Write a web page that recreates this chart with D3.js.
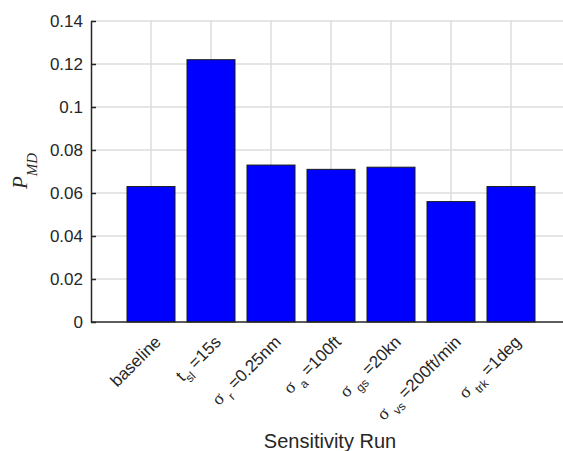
<!DOCTYPE html>
<meta charset="utf-8">
<style>
body { margin: 0; background: #fff; }
svg { display: block; font-family: "Liberation Sans", Arial, sans-serif; }
.grid line { stroke: #dcdcdc; stroke-width: 1.5px; }
.bar { fill: #0000ff; stroke: #1a1a1a; stroke-width: 1px; }
.axis path, .axis line { stroke: #262626; stroke-width: 1.5px; }
.axis text { fill: #262626; font-size: 17px; }
</style>
<svg width="563" height="451"></svg>
<script src="https://d3js.org/d3.v7.min.js"></script>
<script>

// categories: [main text, subscript, rest]
var runs = ["baseline", "t_sl", "sigma_r", "sigma_a", "sigma_gs", "sigma_vs", "sigma_trk"];
var labelMain = ["baseline", "t", "σ", "σ", "σ", "σ", "σ"];
var labelSub  = ["", "sl", "r", "a", "gs", "vs", "trk"];
var labelRest = ["", " =15s", " =0.25nm", " =100ft", " =20kn", " =200ft/min", " =1deg"];
var pmd = [0.063, 0.122, 0.073, 0.071, 0.072, 0.056, 0.063];
var yTicks = [0, 0.02, 0.04, 0.06, 0.08, 0.1, 0.12, 0.14];

var svg = d3.select("svg"),
    margin = {top: 21, left: 91},
    width = 480,
    height = 301;

// bar positions 1..7 on a 0..8 axis (right part runs off the page)
var x = d3.scaleLinear().domain([0, 8]).range([0, width]);
var y = d3.scaleLinear().domain([0, 0.14]).range([height, 0]);
var barW = x(0.8) - x(0);
function cx(i) { return x(i + 1); }

var g = svg.append("g")
    .attr("transform", "translate(" + margin.left + "," + margin.top + ")");

// grid
var grid = g.append("g").attr("class", "grid");
grid.selectAll(".hg").data(yTicks.slice(1)).enter().append("line")
    .attr("x1", 0).attr("x2", width)
    .attr("y1", function(d) { return y(d); }).attr("y2", function(d) { return y(d); });
grid.selectAll(".vg").data(runs).enter().append("line")
    .attr("x1", function(d, i) { return cx(i); })
    .attr("x2", function(d, i) { return cx(i); })
    .attr("y1", 0).attr("y2", height);

// bars
g.selectAll(".bar").data(runs).enter().append("rect")
    .attr("class", "bar")
    .attr("x", function(d, i) { return cx(i) - barW / 2; })
    .attr("width", barW)
    .attr("y", function(d, i) { return y(pmd[i]); })
    .attr("height", function(d, i) { return height - y(pmd[i]); });

// y axis
var yAxis = g.append("g").attr("class", "axis")
    .call(d3.axisLeft(y).tickValues(yTicks).tickSize(-5).tickSizeOuter(0)
      .tickFormat(function(d) { return d === 0 ? "0" : String(+d.toFixed(2)); }));
yAxis.selectAll(".tick text").attr("x", -8);

// x axis line
g.append("line").attr("class", "axis")
    .attr("x1", 0).attr("x2", width).attr("y1", height).attr("y2", height)
    .style("stroke", "#262626").style("stroke-width", "1.5px");

// x tick labels (rotated)
var xl = g.selectAll(".xl").data(runs).enter().append("text")
    .attr("class", "xl")
    .attr("text-anchor", "end")
    .attr("fill", "#262626")
    .style("font-size", "17px")
    .attr("transform", function(d, i) {
      return "translate(" + (cx(i) + 11) + "," + (height + 21) + ") rotate(-45)";
    });
xl.append("tspan")
    .style("font-family", function(d, i) { return i > 1 ? "'Liberation Serif', serif" : null; })
    .style("font-size", function(d, i) { return i > 1 ? "18px" : null; })
    .text(function(d, i) { return labelMain[i] + (i > 1 ? " " : ""); });
xl.append("tspan")
    .attr("dy", function(d, i) { return labelSub[i] ? 6 : 0; })
    .style("font-size", "12px")
    .text(function(d, i) { return labelSub[i]; });
xl.append("tspan")
    .attr("dy", function(d, i) { return labelSub[i] ? -6 : 0; })
    .text(function(d, i) { return labelRest[i]; });

// axis titles
svg.append("text")
    .attr("x", 330).attr("y", 448)
    .attr("text-anchor", "middle")
    .attr("fill", "#262626")
    .style("font-size", "20px")
    .text("Sensitivity Run");

var yl = svg.append("text")
    .attr("transform", "translate(27,171) rotate(-90)")
    .attr("text-anchor", "middle")
    .attr("fill", "#262626")
    .style("font-family", "'Liberation Serif', serif")
    .style("font-style", "italic");
yl.append("tspan").style("font-size", "21px").text("P");
yl.append("tspan").attr("dy", 10).style("font-size", "15px").text("MD");

</script>
